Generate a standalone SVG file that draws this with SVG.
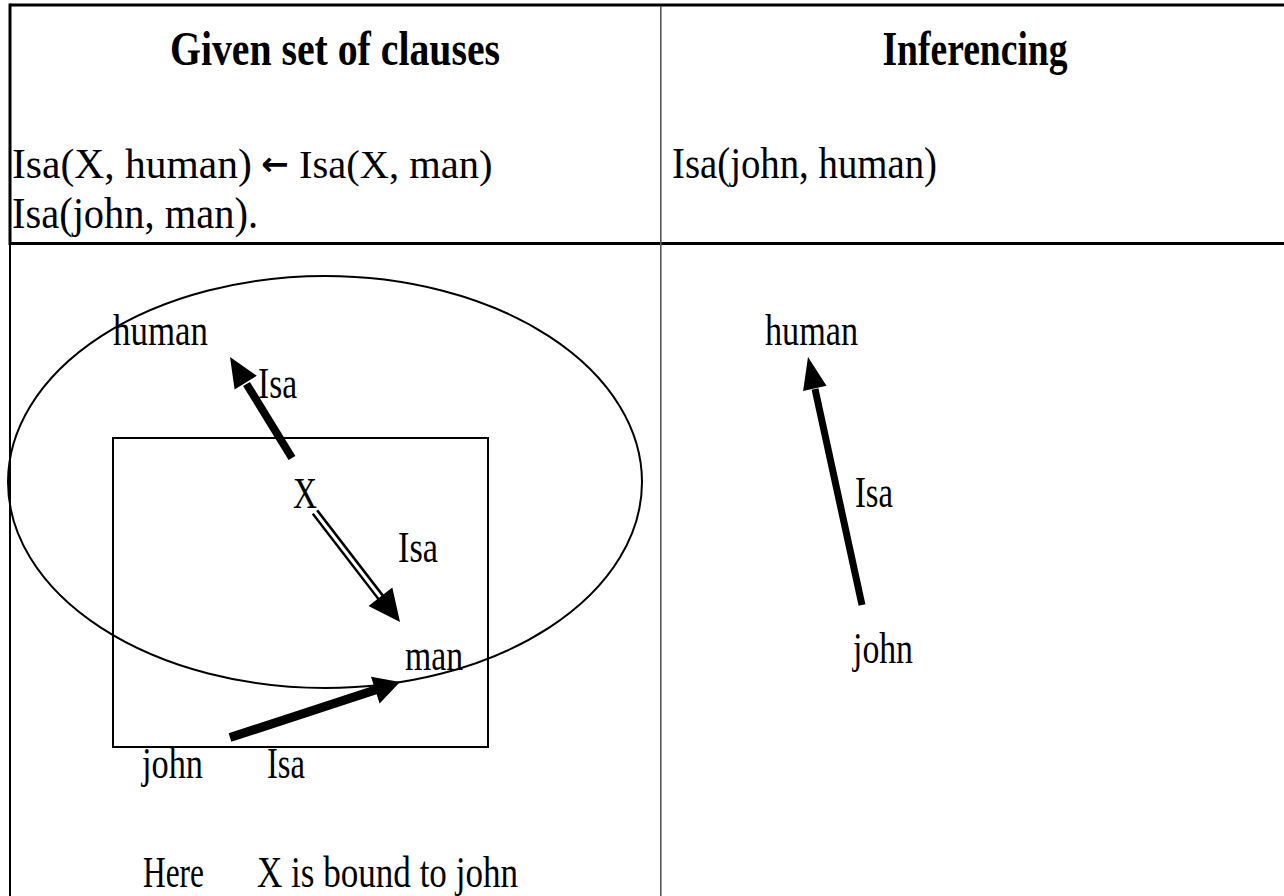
<svg xmlns="http://www.w3.org/2000/svg" width="1284" height="896" viewBox="0 0 1284 896">
<style>
  .t { font-family: "Liberation Serif", "Times New Roman", serif; font-size: 45px; fill: #000; }
  .h { font-family: "Liberation Serif", "Times New Roman", serif; font-size: 48px; font-weight: bold; fill: #000; }
  .c1 { font-family: "Liberation Serif", "Times New Roman", serif; font-size: 41.5px; fill: #000; }
  .c2 { font-family: "Liberation Serif", "Times New Roman", serif; font-size: 40.5px; fill: #000; }
  .arr { font-family: "DejaVu Sans", sans-serif; font-size: 33px; font-weight: bold; fill: #000; }
  .grid { stroke: #000; stroke-width: 3; fill: none; }
  .shape { stroke: #000; stroke-width: 2; fill: none; }
  .head { fill: #000; stroke: none; }
</style>
<rect width="1284" height="896" fill="#fff"/>
<g id="table">
  <line class="grid" x1="10" y1="5" x2="1284" y2="5"/>
  <line class="grid" x1="10" y1="243.5" x2="1284" y2="243.5"/>
  <line class="grid" x1="10" y1="3.5" x2="10" y2="245"/>
  <line stroke="#000" stroke-width="2" x1="10" y1="245" x2="10" y2="896"/>
  <line stroke="#555" stroke-width="1.6" x1="660.8" y1="6" x2="660.8" y2="896"/>
</g>
<g id="headers">
  <text class="h" x="335" y="65" text-anchor="middle" textLength="330" lengthAdjust="spacingAndGlyphs">Given set of clauses</text>
  <text class="h" x="975" y="65" text-anchor="middle" textLength="185" lengthAdjust="spacingAndGlyphs">Inferencing</text>
</g>
<g id="clauses">
  <text class="c1" x="12" y="178">Isa(X, human)</text>
  <text class="arr" x="261" y="175">←</text>
  <text class="c2" x="299" y="178">Isa(X, man)</text>
  <text class="t" x="12" y="228" textLength="246" lengthAdjust="spacingAndGlyphs">Isa(john, man).</text>
  <text class="t" x="672" y="178" textLength="265" lengthAdjust="spacingAndGlyphs">Isa(john, human)</text>
</g>
<g id="scope-ellipse">
  <ellipse class="shape" cx="325" cy="482" rx="317" ry="206"/>
</g>
<g id="binding-box">
  <rect class="shape" x="113" y="438" width="375" height="309"/>
</g>
<g id="node-human-left"><text class="t" x="113" y="345" textLength="95" lengthAdjust="spacingAndGlyphs">human</text></g>
<g id="node-x"><text class="t" x="293" y="508" textLength="24" lengthAdjust="spacingAndGlyphs">X</text></g>
<g id="node-man"><text class="t" x="405" y="670" textLength="58" lengthAdjust="spacingAndGlyphs">man</text></g>
<g id="node-john-left"><text class="t" x="142" y="778" textLength="61" lengthAdjust="spacingAndGlyphs">john</text></g>
<g id="node-human-right"><text class="t" x="765" y="345" textLength="93" lengthAdjust="spacingAndGlyphs">human</text></g>
<g id="node-john-right"><text class="t" x="853" y="663" textLength="60" lengthAdjust="spacingAndGlyphs">john</text></g>
<g id="connectors">
  <line stroke="#000" stroke-width="8" x1="292" y1="458" x2="246.5" y2="384"/>
  <polygon class="head" points="230,357 256.8,375.8 234.6,389.4"/>
  <line stroke="#000" stroke-width="8" x1="315" y1="512" x2="382" y2="599"/>
  <line stroke="#fff" stroke-width="3" x1="313" y1="509.5" x2="383" y2="600.5"/>
  <polygon class="head" points="400,622 392.3,587.5 368.5,605.9"/>
  <line stroke="#000" stroke-width="9" x1="230" y1="737.5" x2="376" y2="689.8"/>
  <polygon class="head" points="400,682 379.6,703.4 371,676.8"/>
  <line stroke="#000" stroke-width="7" x1="862" y1="605" x2="815" y2="389"/>
  <polygon class="head" points="808,357 826.5,385.7 803.1,390.9"/>
</g>
<g id="edge-labels">
  <text class="t" x="258" y="398" textLength="39" lengthAdjust="spacingAndGlyphs">Isa</text>
  <text class="t" x="398" y="562" textLength="40" lengthAdjust="spacingAndGlyphs">Isa</text>
  <text class="t" x="267" y="778" textLength="38" lengthAdjust="spacingAndGlyphs">Isa</text>
  <text class="t" x="855" y="507" textLength="38" lengthAdjust="spacingAndGlyphs">Isa</text>
</g>
<g id="note">
  <text class="t" x="143" y="887" textLength="61" lengthAdjust="spacingAndGlyphs">Here</text>
  <text class="t" x="257" y="887" textLength="261" lengthAdjust="spacingAndGlyphs">X is bound to john</text>
</g>
</svg>
